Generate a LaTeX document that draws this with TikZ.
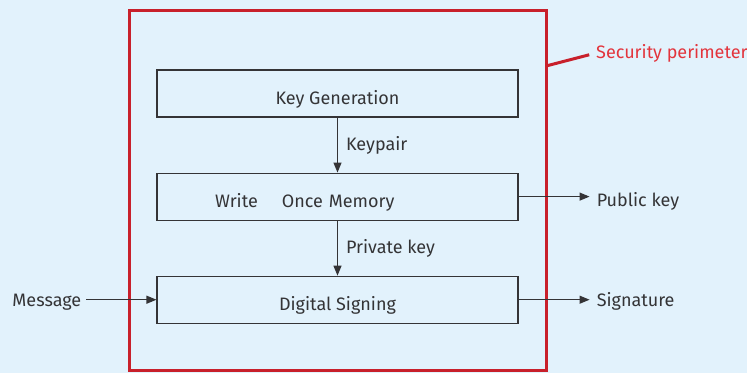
\documentclass[tikz,border=0pt]{standalone}
\usepackage{fontspec}
\setmainfont{Fira Sans}
\usetikzlibrary{arrows.meta, positioning}
\definecolor{bgblue}{HTML}{E2F2FC}
\definecolor{perimred}{HTML}{C8202B}
\definecolor{labelred}{HTML}{E3343C}
\definecolor{inkgray}{HTML}{343436}
\tikzset{
    stage/.style={
        rectangle,
        draw=inkgray,
        line width=1.1pt,
        minimum width=361pt,
        minimum height=47pt,
        inner sep=0pt,
        text height=21pt,
        text depth=0pt,
        text=inkgray,
        font=\fontsize{18}{21}\selectfont
    },
    perimeter/.style={
        rectangle,
        draw=perimred,
        line width=3pt,
        minimum width=417pt,
        minimum height=360pt,
        inner sep=0pt
    },
    wire/.style={
        draw=inkgray,
        line width=1.1pt,
        -{Triangle[length=10pt,width=8pt]}
    },
    tag/.style={
        inner sep=0pt,
        text height=10pt,
        text depth=0pt,
        text=inkgray,
        font=\fontsize{18}{21}\selectfont
    }
}

\begin{document}
\begin{tikzpicture}[x=1pt, y=-1pt]

% Background
\fill[bgblue] (0,0) rectangle (747,373);
\useasboundingbox (0,0) rectangle (747,373);

% Security perimeter
\node[perimeter] (perim) at (337.5,190) {};
\coordinate (bend) at (546,66);
\node[tag, text=labelred, anchor=west] (seclabel) at (596,53) {Security perimeter};
\draw[perimred, line width=3pt, shorten >=7pt] (bend) -- (seclabel.west);

% Stages
\node[stage] (keygen) at (337.5,93.5) {Key Generation};
\node[stage, below=55pt of keygen, align=left, text width=245pt, inner xsep=58pt] (wom) {Write\hspace{24pt}Once Memory};
\node[stage, below=55pt of wom] (signing) {Digital Signing};

\draw[wire] (keygen) -- node[tag, right=8pt] {Keypair} (wom);
\draw[wire] (wom) -- node[tag, right=8pt] {Private key} (signing);

% Inputs and outputs
\node[tag, left=75pt of signing, yshift=-2pt] (message) {Message};
\node[tag, right=78pt of wom, yshift=-5pt] (pubkey) {Public key};
\node[tag, right=78pt of signing, yshift=-2pt] (signature) {Signature};

\draw[wire, shorten <=5pt] (message.east |- signing) -- (signing);
\draw[wire, shorten >=7pt] (wom) -- (pubkey.west |- wom);
\draw[wire, shorten >=7pt] (signing) -- (signature.west |- signing);

\end{tikzpicture}
\end{document}
